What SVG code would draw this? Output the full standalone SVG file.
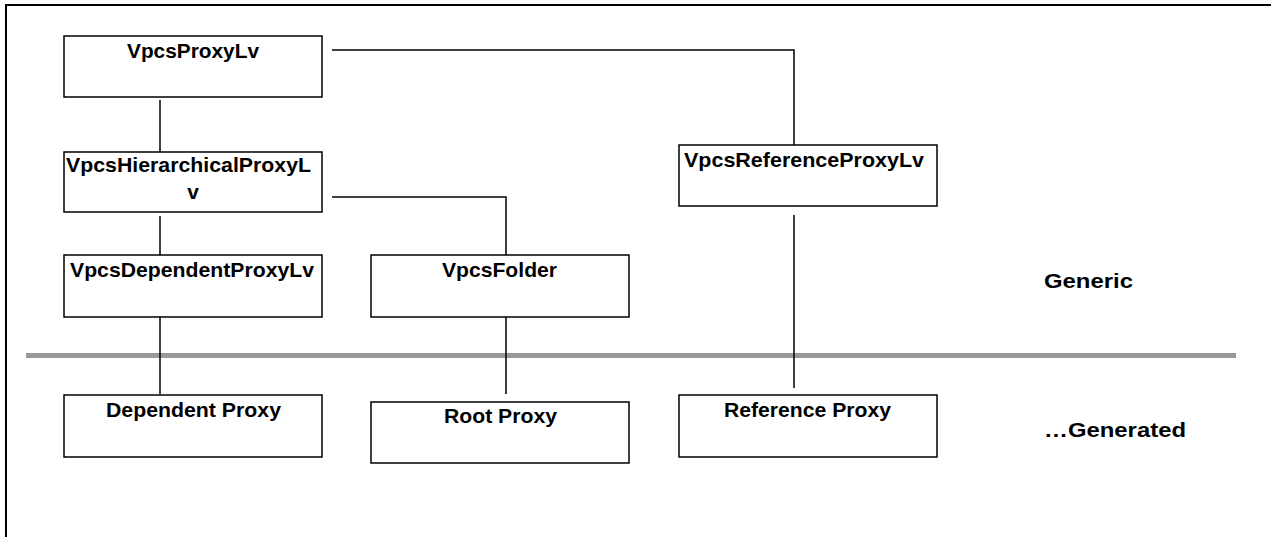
<svg xmlns="http://www.w3.org/2000/svg" width="1271" height="537" viewBox="0 0 1271 537">
<style>
.box{fill:#fff;stroke:#000;stroke-width:1.5}
.t{font-family:"Liberation Sans",Arial,sans-serif;font-weight:bold;font-size:21px;fill:#000}
.c{stroke:#000;stroke-width:1.5;fill:none}
</style>
<rect x="0" y="0" width="1271" height="537" fill="#fff"/>
<path d="M6,537 V5 H1271" fill="none" stroke="#000" stroke-width="2"/>
<line x1="26" y1="355.5" x2="1236" y2="355.5" stroke="#999" stroke-width="5"/>
<g id="connectors">
<line class="c" x1="160" y1="100" x2="160" y2="157"/>
<line class="c" x1="160" y1="216" x2="160" y2="255"/>
<line class="c" x1="160" y1="317" x2="160" y2="394"/>
<polyline class="c" points="332,50 794,50 794,145"/>
<polyline class="c" points="332,197 506,197 506,255"/>
<line class="c" x1="506" y1="317" x2="506" y2="394"/>
<line class="c" x1="794" y1="215" x2="794" y2="388"/>
</g>
<g id="VpcsProxyLv">
<rect class="box" x="64" y="36" width="258" height="61"/>
<text class="t" x="127" y="58" textLength="132" lengthAdjust="spacingAndGlyphs">VpcsProxyLv</text>
</g>
<g id="VpcsHierarchicalProxyLv">
<rect class="box" x="64" y="152" width="258" height="60"/>
<text class="t" x="66" y="172" textLength="245" lengthAdjust="spacingAndGlyphs">VpcsHierarchicalProxyL</text>
<text class="t" x="193" y="199" text-anchor="middle">v</text>
</g>
<g id="VpcsReferenceProxyLv">
<rect class="box" x="679" y="145" width="258" height="61"/>
<text class="t" x="684" y="167" textLength="240" lengthAdjust="spacingAndGlyphs">VpcsReferenceProxyLv</text>
</g>
<g id="VpcsDependentProxyLv">
<rect class="box" x="64" y="255" width="258" height="62"/>
<text class="t" x="70" y="277" textLength="244" lengthAdjust="spacingAndGlyphs">VpcsDependentProxyLv</text>
</g>
<g id="VpcsFolder">
<rect class="box" x="371" y="255" width="258" height="62"/>
<text class="t" x="442" y="277" textLength="115" lengthAdjust="spacingAndGlyphs">VpcsFolder</text>
</g>
<g id="DependentProxy">
<rect class="box" x="64" y="395" width="258" height="62"/>
<text class="t" x="106" y="417" textLength="175" lengthAdjust="spacingAndGlyphs">Dependent Proxy</text>
</g>
<g id="RootProxy">
<rect class="box" x="371" y="402" width="258" height="61"/>
<text class="t" x="444" y="423" textLength="113" lengthAdjust="spacingAndGlyphs">Root Proxy</text>
</g>
<g id="ReferenceProxy">
<rect class="box" x="679" y="395" width="258" height="62"/>
<text class="t" x="724" y="417" textLength="167" lengthAdjust="spacingAndGlyphs">Reference Proxy</text>
</g>
<g id="labels">
<text class="t" x="1044" y="288" textLength="89" lengthAdjust="spacingAndGlyphs">Generic</text>
<text class="t" x="1044" y="437" textLength="142" lengthAdjust="spacingAndGlyphs">…Generated</text>
</g>
</svg>
